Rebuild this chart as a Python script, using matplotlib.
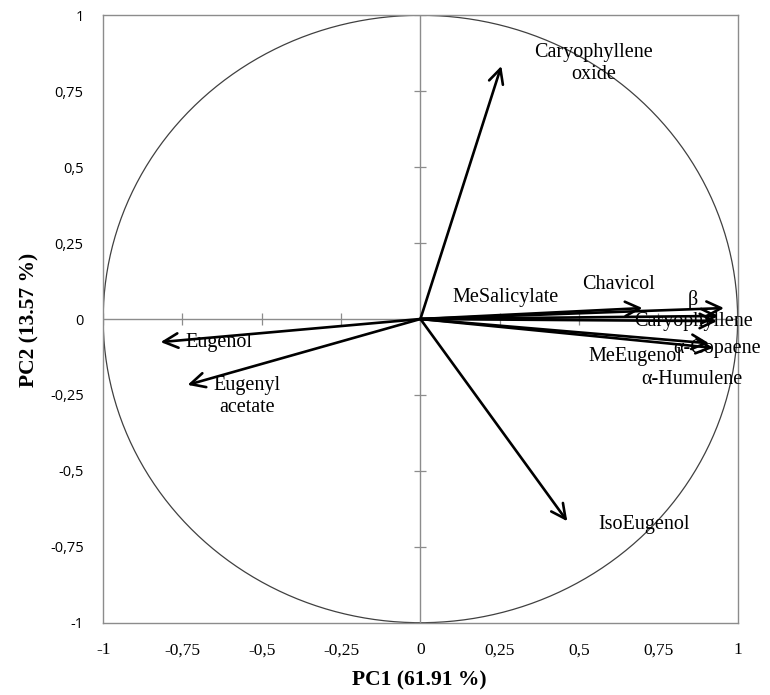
import numpy as np
import matplotlib.pyplot as plt

# Carichi delle variabili sulle prime due componenti principali
variabili = ['Caryophyllene oxide', 'Eugenol', 'Eugenyl acetate', 'IsoEugenol',
             'MeSalicylate', 'Chavicol', 'β-Caryophyllene', 'α-Copaene',
             'MeEugenol', 'α-Humulene']
pc1 = [0.255, -0.819, -0.734, 0.463, 0.94, 0.70, 0.957, 0.935, 0.91, 0.923]
pc2 = [0.833, -0.076, -0.217, -0.666, 0.01, 0.036, 0.036, -0.007, -0.08, -0.095]

# Testo delle etichette e loro posizione (coordinate dati)
etichette = ['Caryophyllene\noxide', 'Eugenol', 'Eugenyl\nacetate', 'IsoEugenol',
             'MeSalicylate', 'Chavicol', 'β\nCaryophyllene', 'α-Copaene',
             'MeEugenol', 'α-Humulene']
pos_x = [0.545, -0.636, -0.548, 0.706, 0.268, 0.624, 0.86, 0.935, 0.677, 0.857]
pos_y = [0.84, -0.076, -0.254, -0.675, 0.072, 0.115, 0.028, -0.096, -0.122, -0.2]

tick_vals = [-1, -0.75, -0.5, -0.25, 0, 0.25, 0.5, 0.75, 1]
tick_txt = ['-1', '-0,75', '-0,5', '-0,25', '0', '0,25', '0,5', '0,75', '1']

fig = plt.figure(figsize=(7.7, 6.95), dpi=100)
ax = fig.add_axes([0.134, 0.104, 0.824, 0.874])

# Cerchio delle correlazioni
t = np.linspace(0, 2 * np.pi, 400)
ax.plot(np.cos(t), np.sin(t), color='#404040', lw=0.9)

# Assi centrali con tacche
ax.axhline(0, color='#8c8c8c', lw=1)
ax.axvline(0, color='#8c8c8c', lw=1)
ax.plot(tick_vals, [0] * len(tick_vals), ls='none', marker='|', ms=9, mew=0.9, color='#8c8c8c')
ax.plot([0] * len(tick_vals), tick_vals, ls='none', marker='_', ms=9, mew=0.9, color='#8c8c8c')

# Vettori
for x, y in zip(pc1, pc2):
    ax.annotate('', xy=(x, y), xytext=(0, 0),
                arrowprops=dict(arrowstyle='->', lw=1.9, color='black',
                                mutation_scale=26, shrinkA=0, shrinkB=0))

for txt, x, y in zip(etichette, pos_x, pos_y):
    ax.text(x, y, txt, ha='center', va='center', fontsize=14.5,
            family='Liberation Serif', linespacing=1.2)

ax.set_xlim(-1, 1)
ax.set_ylim(-1, 1)
ax.set_xticks(tick_vals)
ax.set_xticklabels(tick_txt, family='Liberation Serif', fontsize=12.5)
ax.set_yticks(tick_vals)
ax.set_yticklabels(tick_txt, family='Open Sans', fontsize=10.5)
ax.tick_params(length=0, pad=14)
for s in ax.spines.values():
    s.set_color('#8c8c8c')
    s.set_linewidth(1)

fig.text(0.545, 0.021, 'PC1 (61.91 %)', ha='center', va='center',
         fontsize=15.5, fontweight='bold', family='Liberation Serif')
fig.text(0.038, 0.54, 'PC2 (13.57 %)', ha='center', va='center', rotation=90,
         fontsize=15.5, fontweight='bold', family='Liberation Serif')

fig.savefig('out.png', dpi=100)
